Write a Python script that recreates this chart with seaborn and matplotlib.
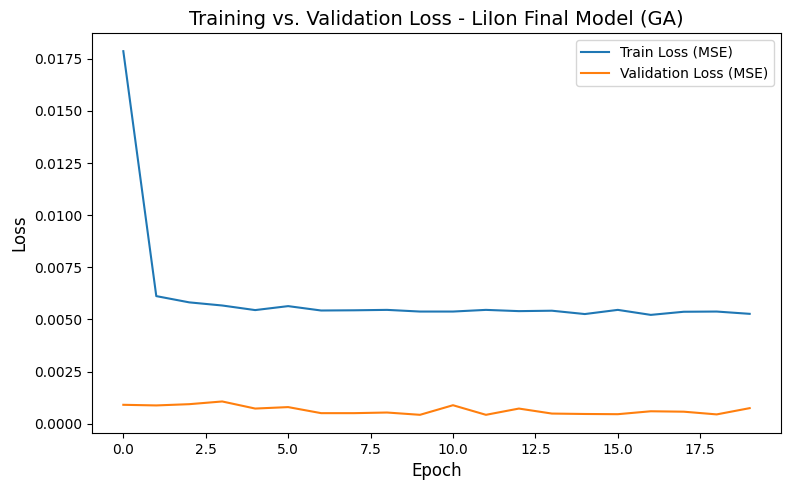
#!/usr/bin/env python3

import pandas as pd
import matplotlib
matplotlib.use("Agg")
import matplotlib.pyplot as plt
import seaborn as sns

# values (units of MSE)
epochs = list(range(20))
train_loss = [0.01786, 0.00612, 0.00582, 0.00567, 0.00545, 0.00564, 0.00543, 0.00544,
              0.00546, 0.00538, 0.00538, 0.00546, 0.00540, 0.00542, 0.00526, 0.00546,
              0.00522, 0.00537, 0.00538, 0.00527]
val_loss = [0.00091, 0.00088, 0.00094, 0.00107, 0.00073, 0.00080, 0.00051, 0.00051,
            0.00054, 0.00043, 0.00089, 0.00043, 0.00073, 0.00049, 0.00047, 0.00046,
            0.00060, 0.00058, 0.00045, 0.00075]

df = pd.DataFrame({"Epoch": epochs, "train": train_loss, "val": val_loss})

fig, ax = plt.subplots(figsize=(7.9, 4.9), dpi=100)
sns.lineplot(data=df, x="Epoch", y="train", ax=ax, label="Train Loss (MSE)", color="#1f77b4")
sns.lineplot(data=df, x="Epoch", y="val", ax=ax, label="Validation Loss (MSE)", color="#ff7f0e")

ax.set_title("Training vs. Validation Loss - LiIon Final Model (GA)", fontsize=14)
ax.set_xlabel("Epoch", fontsize=12)
ax.set_ylabel("Loss", fontsize=12)
ax.legend(loc="upper right")

# match the reference axes box
plt.subplots_adjust(left=92 / 790, right=781 / 790, top=1 - 33 / 490, bottom=1 - 433 / 490)
plt.savefig("out.png", dpi=100)
